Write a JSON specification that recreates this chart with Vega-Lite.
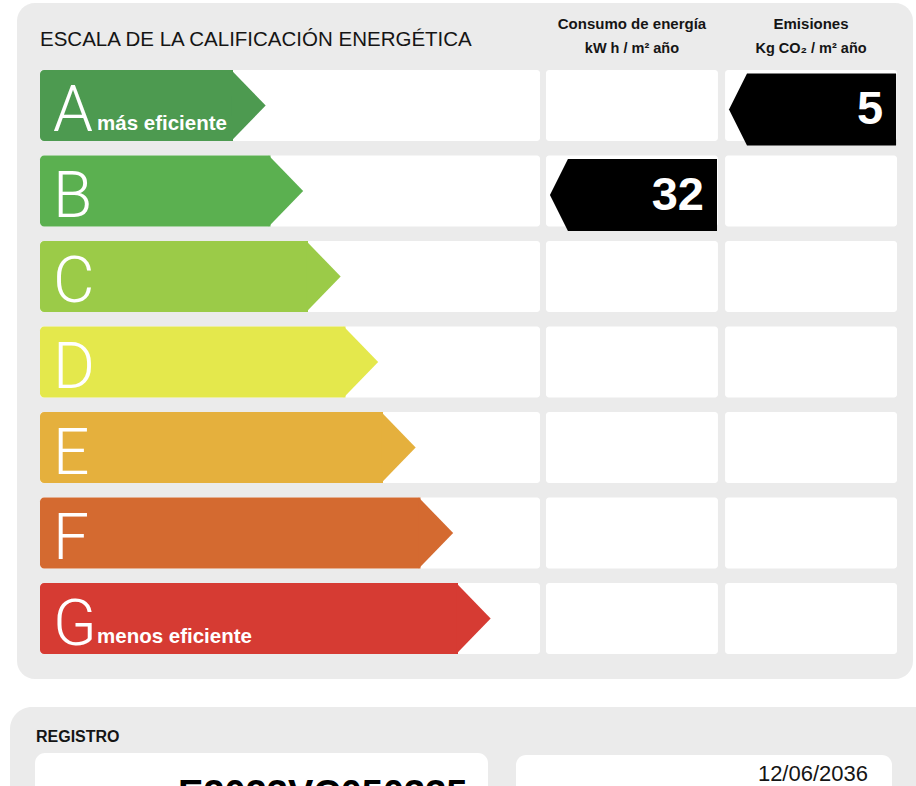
{
  "$schema": "https://vega.github.io/schema/vega-lite/v6.json",
  "width": 916,
  "height": 786,
  "autosize": {"type": "none"},
  "padding": 0,
  "background": "#ffffff",
  "config": {
    "view": {"stroke": null},
    "axis": {"disable": true},
    "legend": {"disable": true}
  },
  "datasets": {
    "clases": [
      {"clase": "A", "rango": 1, "nota": "más eficiente"},
      {"clase": "B", "rango": 2, "nota": ""},
      {"clase": "C", "rango": 3, "nota": ""},
      {"clase": "D", "rango": 4, "nota": ""},
      {"clase": "E", "rango": 5, "nota": ""},
      {"clase": "F", "rango": 6, "nota": ""},
      {"clase": "G", "rango": 7, "nota": "menos eficiente"}
    ],
    "indicadores": [
      {"indicador": "Consumo de energía", "unidad": "kW h / m² año"},
      {"indicador": "Emisiones", "unidad": "Kg CO₂ / m² año"}
    ],
    "celdas": [
      {"clase": "A", "indicador": "Consumo de energía"},
      {"clase": "B", "indicador": "Consumo de energía"},
      {"clase": "C", "indicador": "Consumo de energía"},
      {"clase": "D", "indicador": "Consumo de energía"},
      {"clase": "E", "indicador": "Consumo de energía"},
      {"clase": "F", "indicador": "Consumo de energía"},
      {"clase": "G", "indicador": "Consumo de energía"},
      {"clase": "A", "indicador": "Emisiones"},
      {"clase": "B", "indicador": "Emisiones"},
      {"clase": "C", "indicador": "Emisiones"},
      {"clase": "D", "indicador": "Emisiones"},
      {"clase": "E", "indicador": "Emisiones"},
      {"clase": "F", "indicador": "Emisiones"},
      {"clase": "G", "indicador": "Emisiones"}
    ],
    "resultados": [
      {"indicador": "Consumo de energía", "clase": "B", "valor": 32},
      {"indicador": "Emisiones", "clase": "A", "valor": 5}
    ],
    "certificado": [
      {"titulo": "ESCALA DE LA CALIFICACIÓN ENERGÉTICA", "seccion": "REGISTRO", "registro": "E2023VC050335", "fecha": "12/06/2036"}
    ]
  },
  "layer": [
    {
      "data": {"name": "certificado"},
      "mark": {"type": "rect", "fill": "#ebebeb", "cornerRadius": 18},
      "encoding": {"x": {"value": 17}, "x2": {"value": 913}, "y": {"value": 3}, "y2": {"value": 679}}
    },
    {
      "data": {"name": "certificado"},
      "mark": {"type": "rect", "fill": "#ebebeb", "cornerRadius": 22},
      "encoding": {"x": {"value": 10}, "x2": {"value": 940}, "y": {"value": 707}, "y2": {"value": 830}}
    },
    {
      "data": {"name": "certificado"},
      "mark": {"type": "rect", "fill": "#ffffff", "cornerRadius": 10},
      "encoding": {"x": {"value": 35}, "x2": {"value": 488}, "y": {"value": 753}, "y2": {"value": 830}}
    },
    {
      "data": {"name": "certificado"},
      "mark": {"type": "rect", "fill": "#ffffff", "cornerRadius": 10},
      "encoding": {"x": {"value": 516}, "x2": {"value": 892}, "y": {"value": 755}, "y2": {"value": 830}}
    },
    {
      "data": {"name": "certificado"},
      "mark": {"type": "text", "font": "Liberation Sans", "fontSize": 20.5, "align": "left", "baseline": "alphabetic", "fill": "#151515"},
      "encoding": {"x": {"value": 40}, "y": {"value": 46}, "text": {"field": "titulo"}}
    },
    {
      "data": {"name": "certificado"},
      "mark": {"type": "text", "font": "Liberation Sans", "fontWeight": "bold", "fontSize": 16, "align": "left", "baseline": "alphabetic", "fill": "#151515"},
      "encoding": {"x": {"value": 36}, "y": {"value": 742}, "text": {"field": "seccion"}}
    },
    {
      "data": {"name": "certificado"},
      "mark": {"type": "text", "font": "Liberation Sans", "fontSize": 22, "align": "right", "baseline": "alphabetic", "fill": "#151515"},
      "encoding": {"x": {"value": 868}, "y": {"value": 781}, "text": {"field": "fecha"}}
    },
    {
      "data": {"name": "certificado"},
      "mark": {"type": "text", "font": "Liberation Sans", "fontWeight": "bold", "fontSize": 38, "align": "left", "baseline": "alphabetic", "fill": "#000000"},
      "encoding": {"x": {"value": 178}, "y": {"value": 807}, "text": {"field": "registro"}}
    },
    {
      "data": {"name": "clases"},
      "mark": {"type": "rect", "fill": "#ffffff", "cornerRadius": 3},
      "encoding": {
        "x": {"value": 40},
        "x2": {"value": 540},
        "y": {"field": "clase", "type": "nominal", "scale": {"domain": ["A", "B", "C", "D", "E", "F", "G"], "range": [70, 654], "paddingInner": 0.17, "paddingOuter": 0}}
      }
    },
    {
      "layer": [
        {
          "data": {"name": "celdas"},
          "mark": {"type": "rect", "fill": "#ffffff", "cornerRadius": 3},
          "encoding": {
            "x": {"field": "indicador", "type": "nominal", "scale": {"domain": ["Consumo de energía", "Emisiones"], "range": [546, 897], "paddingInner": 0.04, "paddingOuter": 0}},
            "y": {"field": "clase", "type": "nominal", "scale": {"domain": ["A", "B", "C", "D", "E", "F", "G"], "range": [70, 654], "paddingInner": 0.17, "paddingOuter": 0}}
          }
        },
        {
          "data": {"name": "indicadores"},
          "mark": {"type": "text", "font": "Liberation Sans", "fontWeight": "bold", "fontSize": 15, "align": "center", "baseline": "alphabetic", "fill": "#151515"},
          "encoding": {
            "x": {"field": "indicador", "type": "nominal"},
            "y": {"value": 29},
            "text": {"field": "indicador"}
          }
        },
        {
          "data": {"name": "indicadores"},
          "mark": {"type": "text", "font": "Liberation Sans", "fontWeight": "bold", "fontSize": 14.5, "align": "center", "baseline": "alphabetic", "fill": "#151515"},
          "encoding": {
            "x": {"field": "indicador", "type": "nominal"},
            "y": {"value": 53},
            "text": {"field": "unidad"}
          }
        },
        {
          "data": {"name": "resultados"},
          "mark": {"type": "point", "shape": "M -2.32 0 L -1.82 -1 L 2.32 -1 L 2.32 1 L -1.82 1 Z", "size": 5184, "filled": true, "fill": "#000000", "opacity": 1, "strokeWidth": 0, "xOffset": 1.5, "yOffset": 4},
          "encoding": {
            "x": {"field": "indicador", "type": "nominal"},
            "y": {"field": "clase", "type": "nominal"}
          }
        },
        {
          "data": {"name": "resultados"},
          "mark": {"type": "text", "font": "Liberation Sans", "fontWeight": "bold", "fontSize": 47, "align": "right", "baseline": "alphabetic", "dx": 72, "dy": 19, "fill": "#ffffff"},
          "encoding": {
            "x": {"field": "indicador", "type": "nominal"},
            "y": {"field": "clase", "type": "nominal"},
            "text": {"field": "valor", "type": "quantitative"}
          }
        }
      ]
    },
    {
      "data": {"name": "clases"},
      "layer": [
        {
          "mark": {"type": "rect", "cornerRadiusTopLeft": 4, "cornerRadiusBottomLeft": 4},
          "encoding": {
            "x": {"field": "rango", "type": "quantitative", "scale": {"domain": [1, 7], "range": [233, 458], "zero": false, "nice": false}},
            "x2": {"value": 40},
            "y": {"field": "clase", "type": "nominal", "scale": {"domain": ["A", "B", "C", "D", "E", "F", "G"], "range": [70, 654], "paddingInner": 0.17, "paddingOuter": 0}},
            "color": {"field": "clase", "type": "nominal", "legend": null, "scale": {"domain": ["A", "B", "C", "D", "E", "F", "G"], "range": ["#4d9a50", "#5bb050", "#9bcb48", "#e4e84c", "#e5b03d", "#d46a30", "#d63b33"]}}
          }
        },
        {
          "mark": {"type": "point", "shape": "M -0.05 -1 L 0.92 0 L -0.05 1 Z", "size": 5041, "filled": true, "opacity": 1, "strokeWidth": 0},
          "encoding": {
            "x": {"field": "rango", "type": "quantitative"},
            "y": {"field": "clase", "type": "nominal"},
            "color": {"field": "clase", "type": "nominal", "legend": null}
          }
        },
        {
          "mark": {"type": "text", "font": "Roboto", "fontWeight": 300, "fontSize": 64, "align": "left", "baseline": "alphabetic", "dy": 26, "fill": "#ffffff"},
          "encoding": {
            "x": {"value": 53},
            "y": {"field": "clase", "type": "nominal"},
            "text": {"field": "clase"}
          }
        },
        {
          "transform": [{"filter": "datum.nota != ''"}],
          "mark": {"type": "text", "font": "Liberation Sans", "fontWeight": "bold", "fontSize": 20.5, "align": "left", "baseline": "alphabetic", "dy": 24.5, "fill": "#ffffff"},
          "encoding": {
            "x": {"value": 97},
            "y": {"field": "clase", "type": "nominal"},
            "text": {"field": "nota"}
          }
        }
      ]
    }
  ],
  "resolve": {"scale": {"x": "independent"}}
}
